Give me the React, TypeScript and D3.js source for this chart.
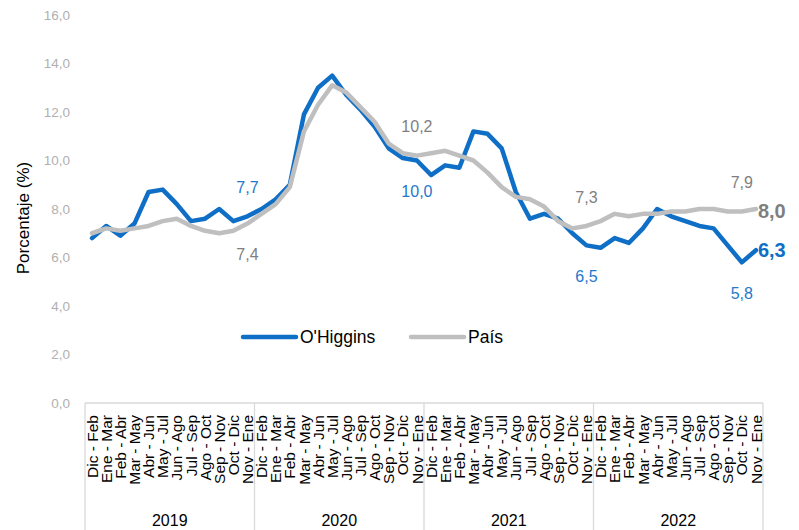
import React from "react";
import * as d3 from "d3";

const years = ["2019", "2020", "2021", "2022"];
const periods = [
  "Dic - Feb", "Ene - Mar", "Feb - Abr", "Mar - May", "Abr - Jun", "May - Jul",
  "Jun - Ago", "Jul - Sep", "Ago - Oct", "Sep - Nov", "Oct - Dic", "Nov - Ene",
];
const yTicks = [0, 2, 4, 6, 8, 10, 12, 14, 16];

const ohiggins = [
  6.8, 7.3, 6.9, 7.4, 8.7, 8.8, 8.2, 7.5, 7.6, 8.0, 7.5, 7.7,
  8.0, 8.4, 9.0, 11.9, 13.0, 13.5, 12.7, 12.1, 11.4, 10.5, 10.1, 10.0,
  9.4, 9.8, 9.7, 11.2, 11.1, 10.5, 8.7, 7.6, 7.8, 7.6, 7.0, 6.5,
  6.4, 6.8, 6.6, 7.2, 8.0, 7.7, 7.5, 7.3, 7.2, 6.5, 5.8, 6.3,
];
const pais = [
  7.0, 7.2, 7.1, 7.2, 7.3, 7.5, 7.6, 7.3, 7.1, 7.0, 7.1, 7.4,
  7.8, 8.2, 8.9, 11.2, 12.3, 13.1, 12.8, 12.2, 11.6, 10.7, 10.3, 10.2,
  10.3, 10.4, 10.2, 10.0, 9.5, 8.9, 8.5, 8.4, 8.1, 7.5, 7.2, 7.3,
  7.5, 7.8, 7.7, 7.8, 7.8, 7.9, 7.9, 8.0, 8.0, 7.9, 7.9, 8.0,
];
// indices with data labels; blueAbove marks where O'Higgins label sits above
const labelIdx = [11, 23, 35, 46];
const blueAbove = [true, false, false, false];

const BLUE = "#0F6FC6";
const BLUE_TXT = "#2478CC";
const GRAY = "#BFBFBF";
const GRAY_TXT = "#7F7F7F";
const FONT = "'Liberation Sans', Arial, sans-serif";

export default function App() {
  const W = 799, H = 530;
  const left = 85, right = 763, top = 15, bottom = 403;
  const n = years.length * periods.length;
  const cats = d3.range(n);
  const x = d3.scaleBand<number>().domain(cats).range([left, right]).padding(0);
  const cx = (i: number) => (x(i) as number) + x.bandwidth() / 2;
  const y = d3.scaleLinear().domain([0, 16]).range([bottom, top]);
  const line = d3
    .line<number>()
    .x((_, i) => cx(i))
    .y((d) => y(d));
  const fmt = (v: number) => v.toFixed(1).replace(".", ",");
  const yearW = (right - left) / years.length;

  return (
    <svg
      width={W}
      height={H}
      style={{ position: "absolute", left: 0, top: 0, background: "#fff" }}
      fontFamily={FONT}
    >
      {yTicks.map((t) => (
        <text key={t} x={70} y={y(t)} dy="0.35em" textAnchor="end" fontSize={13.5} fill="#B0B0B0">
          {fmt(t)}
        </text>
      ))}
      <text
        transform={`translate(29,${(top + bottom) / 2 + 9}) rotate(-90)`}
        textAnchor="middle"
        fontSize={17}
        fill="#000"
      >
        Porcentaje (%)
      </text>

      <line x1={left} x2={right} y1={bottom} y2={bottom} stroke="#D9D9D9" strokeWidth={1.3} />
      {d3.range(years.length + 1).map((k) => (
        <line
          key={k}
          x1={left + k * yearW}
          x2={left + k * yearW}
          y1={bottom}
          y2={H}
          stroke="#D9D9D9"
          strokeWidth={1.3}
        />
      ))}
      {cats.map((i) => (
        <text
          key={i}
          transform={`translate(${cx(i)},${bottom + 12}) rotate(-90)`}
          dy="0.36em"
          textAnchor="end"
          fontSize={15.5}
          fill="#000"
        >
          {periods[i % periods.length]}
        </text>
      ))}
      {years.map((yr, k) => (
        <text key={yr} x={left + (k + 0.5) * yearW} y={526} textAnchor="middle" fontSize={16} fill="#000">
          {yr}
        </text>
      ))}

      <path d={line(ohiggins) || ""} fill="none" stroke={BLUE} strokeWidth={4.5} strokeLinejoin="round" strokeLinecap="round" />
      <path d={line(pais) || ""} fill="none" stroke={GRAY} strokeWidth={4.5} strokeLinejoin="round" strokeLinecap="round" />

      {labelIdx.map((i, k) => {
        const up = blueAbove[k];
        return (
          <g key={i}>
            <text
              x={cx(i)}
              y={up ? y(pais[i]) + 31 : y(pais[i]) - 29}
              dy="0.35em"
              textAnchor="middle"
              fontSize={16}
              fill={GRAY_TXT}
            >
              {fmt(pais[i])}
            </text>
            <text
              x={cx(i)}
              y={up ? y(ohiggins[i]) - 29 : y(ohiggins[i]) + 31}
              dy="0.35em"
              textAnchor="middle"
              fontSize={16}
              fill={BLUE_TXT}
            >
              {fmt(ohiggins[i])}
            </text>
          </g>
        );
      })}
      <text x={cx(n - 1) + 2} y={y(pais[n - 1]) + 2} dy="0.35em" fontSize={20} fontWeight="bold" fill={GRAY_TXT}>
        {fmt(pais[n - 1])}
      </text>
      <text x={cx(n - 1) + 2} y={y(ohiggins[n - 1])} dy="0.35em" fontSize={20} fontWeight="bold" fill={BLUE}>
        {fmt(ohiggins[n - 1])}
      </text>

      <line x1={243} x2={296} y1={337} y2={337} stroke={BLUE} strokeWidth={4.5} strokeLinecap="round" />
      <text x={300} y={337} dy="0.35em" fontSize={17.5} fill="#000">O'Higgins</text>
      <line x1={411} x2={464} y1={337} y2={337} stroke={GRAY} strokeWidth={4.5} strokeLinecap="round" />
      <text x={468} y={337} dy="0.35em" fontSize={17.5} fill="#000">País</text>
    </svg>
  );
}
